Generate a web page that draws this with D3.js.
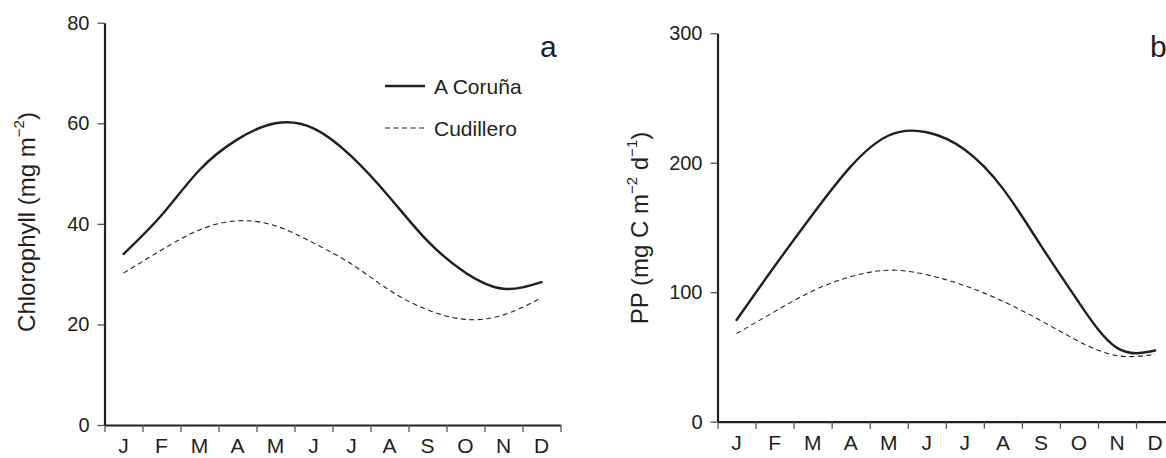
<!DOCTYPE html>
<html>
<head>
<meta charset="utf-8">
<script src="https://cdn.jsdelivr.net/npm/d3@7/dist/d3.min.js"></script>
<style>
  body { margin: 0; background: #fff; }
  svg { display: block; }
  text { font-family: "Liberation Sans", Arial, Helvetica, sans-serif; fill: #231f20; }
</style>
</head>
<body>
<div id="chart"></div>
<script>
// Monthly values (mid-month).
var months = ['J', 'F', 'M', 'A', 'M', 'J', 'J', 'A', 'S', 'O', 'N', 'D'];

var chlCoruna    = [34.0, 41.7, 50.7, 56.8, 60.0, 59.0, 53.4, 45.3, 36.6, 30.3, 27.1, 28.4];
var chlCudillero = [30.2, 34.8, 38.8, 40.6, 39.6, 36.2, 32.0, 26.8, 22.9, 21.0, 21.9, 25.3];
var chlTicks = [0, 20, 40, 60, 80];

var ppCoruna    = [78.5, 120.0, 160.0, 197.0, 221.0, 223.5, 210.0, 180.0, 136.0, 92.0, 57.0, 55.0];
var ppCudillero = [68.0, 85.0, 101.0, 112.0, 117.0, 113.5, 105.0, 93.0, 78.0, 62.0, 51.0, 52.0];
var ppTicks = [0, 100, 200, 300];

var seriesNames = ['A Coruña', 'Cudillero'];

var W = 1166, H = 458;

function translate(x, y) {
  return 'translate(' + x + ', ' + y + ')';
}

var svg = d3.select('#chart').append('svg')
  .attr('width', W)
  .attr('height', H);

function drawPanel(cfg) {
  var g = svg.append('g');

  var xEdge = d3.scaleLinear()
    .domain([0, months.length])
    .range([cfg.left, cfg.left + cfg.step * months.length]);

  var xBand = d3.scaleBand()
    .domain(d3.range(months.length))
    .range(xEdge.range())
    .padding(0);

  var y = d3.scaleLinear()
    .domain([0, cfg.yMax])
    .range([cfg.bottom, cfg.top]);

  // x axis: ticks on month boundaries
  g.append('g')
    .attr('transform', translate(0, cfg.bottom))
    .call(d3.axisBottom(xEdge)
      .tickValues(d3.range(months.length + 1))
      .tickSize(7)
      .tickSizeOuter(0)
      .tickFormat(''));

  // month labels centred in each month
  var monthG = g.append('g')
    .attr('transform', translate(0, cfg.bottom))
    .call(d3.axisBottom(xBand)
      .tickSize(0)
      .tickPadding(13)
      .tickFormat(function(i) { return months[i]; }));
  monthG.select('.domain').remove();

  // y axis
  g.append('g')
    .attr('transform', translate(cfg.left, 0))
    .call(d3.axisLeft(y)
      .tickValues(cfg.ticks)
      .tickSize(7)
      .tickPadding(8)
      .tickSizeOuter(0));

  g.selectAll('.domain')
    .attr('stroke', '#231f20')
    .attr('stroke-width', 2.2);
  g.selectAll('.tick line')
    .attr('stroke', '#555')
    .attr('stroke-width', 1.3);
  g.selectAll('.tick text')
    .style('font-size', '20px')
    .attr('fill', '#231f20');
  monthG.selectAll('.tick text')
    .style('font-size', '21px');

  // y label
  var lab = g.append('text')
    .attr('transform', translate(cfg.labelX, cfg.labelY) + ' rotate(-90)')
    .attr('text-anchor', 'middle')
    .attr('dy', '0.35em')
    .style('font-size', '24px');
  cfg.label.forEach(function(part) {
    var t = lab.append('tspan').text(part.t);
    if (part.sup) {
      t.style('font-size', '15px').attr('dy', '-0.75em');
    } else if (part.down) {
      t.attr('dy', '0.47em');
    }
  });

  // panel letter
  g.append('text')
    .attr('x', cfg.letterX)
    .attr('y', 57)
    .style('font-size', '30px')
    .text(cfg.letter);

  // curves
  var line = d3.line()
    .x(function(d, i) { return xBand(i) + xBand.bandwidth() / 2; })
    .y(function(d) { return y(d); })
    .curve(d3.curveNatural);

  g.append('path')
    .datum(cfg.series[1])
    .attr('fill', 'none')
    .attr('stroke', '#231f20')
    .attr('stroke-width', 1.1)
    .attr('stroke-dasharray', '5,3.5')
    .attr('d', line);

  g.append('path')
    .datum(cfg.series[0])
    .attr('fill', 'none')
    .attr('stroke', '#231f20')
    .attr('stroke-width', 2.4)
    .attr('stroke-linecap', 'round')
    .attr('d', line);

  return g;
}

drawPanel({
  left: 104.5, step: 38, top: 22.7, bottom: 425,
  yMax: 80, ticks: chlTicks,
  labelX: 27, labelY: 222,
  label: [{t: 'Chlorophyll (mg m'}, {t: '\u22122', sup: true}, {t: ')', down: true}],
  letter: 'a', letterX: 540,
  series: [chlCoruna, chlCudillero]
});

drawPanel({
  left: 717.5, step: 38.05, top: 33.2, bottom: 421.7,
  yMax: 300, ticks: ppTicks,
  labelX: 640, labelY: 228,
  label: [{t: 'PP (mg C m'}, {t: '\u22122', sup: true}, {t: ' d', down: true},
          {t: '\u22121', sup: true}, {t: ')', down: true}],
  letter: 'b', letterX: 1150,
  series: [ppCoruna, ppCudillero]
});

// Legend (panel a)
var legend = svg.append('g')
  .attr('transform', translate(385, 0));

var legendRows = legend.selectAll('.leg').data(seriesNames).enter()
  .append('g')
  .classed('leg', true)
  .attr('transform', function(d, i) { return translate(0, i === 0 ? 86 : 128); });

legendRows.append('line')
  .attr('x1', 0).attr('x2', 40)
  .attr('y1', 0).attr('y2', 0)
  .attr('stroke', '#231f20')
  .attr('stroke-width', function(d, i) { return i === 0 ? 2.4 : 1.1; })
  .attr('stroke-dasharray', function(d, i) { return i === 0 ? null : '5,3.5'; });

legendRows.append('text')
  .attr('x', 49)
  .attr('dy', '0.36em')
  .style('font-size', '21px')
  .text(function(d) { return d; });
</script>
</body>
</html>
